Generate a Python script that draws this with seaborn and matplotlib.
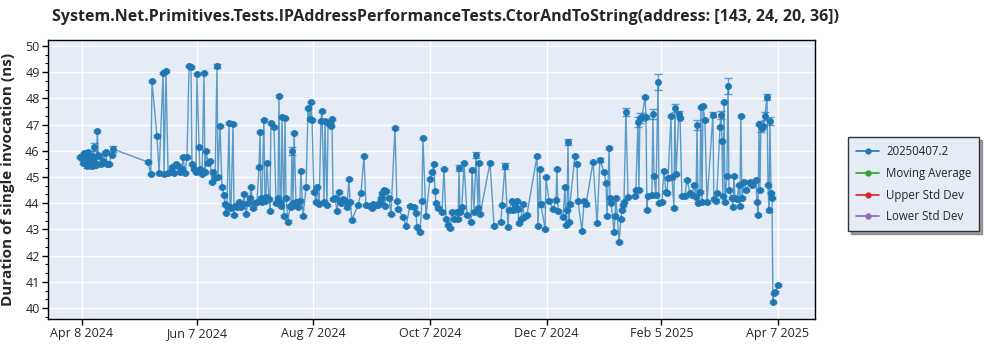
import numpy as np
import pandas as pd
import matplotlib
matplotlib.use("Agg")
import matplotlib.pyplot as plt
from matplotlib.lines import Line2D
from matplotlib.ticker import AutoMinorLocator
import seaborn as sns

# ---------------- data ----------------
start_date = "2024-04-08"
series_name = "20250407.2"
title = "System.Net.Primitives.Tests.IPAddressPerformanceTests.CtorAndToString(address: [143, 24, 20, 36])"
ylabel = "Duration of single invocation (ns)"

# days since start_date
days = [
    -1, 0, 0.5, 1, 1.5, 2, 2.5, 3, 3.5, 4, 4.5, 5, 5.5, 6, 6.5, 7, 7.5, 8, 8.5, 9,
    10, 11, 12, 12.5, 13, 14, 15.5, 16,
    34.5, 36, 36.6, 39.2, 40.3, 42.4, 42.9, 43.9, 45, 46, 47, 48, 49.2, 50.2, 51.3,
    52.3, 52.8, 53.9, 54.9, 56, 57, 57.5, 58.6, 59.6, 60.1, 61.2, 61.7, 62.8, 63.8,
    64.3, 64.9, 65.9, 67, 68, 68.5, 69.6, 70.6, 71.1, 72.2, 73.2, 74.3, 74.8, 75.3,
    75.8, 76.9, 77.4, 77.9, 79, 79.5, 80, 81, 82.1, 83.2, 84.2, 84.7, 85.8, 86.8,
    87.9, 88.4, 89.4, 90.5, 91.5, 92.6, 93.1, 93.6, 94.1, 95.1, 95.7, 96.2, 96.7,
    97.8, 98.3, 98.8, 100.4, 101.5, 102.5, 103, 103.6, 104.1, 104.6, 105.6, 106.2,
    106.7, 107.7, 108.8, 109.3, 109.8, 110.4, 110.9, 111.9, 113, 114, 114.5, 115.6,
    117.2, 118.2, 119.2, 119.8, 120.3, 121.3, 122.4, 122.9, 124, 125, 125.5, 126.6,
    127.1, 128.1, 128.7, 129.7, 130.2, 130.7, 131.3, 132.3, 133.4, 134.4, 134.9,
    135.5, 136.5, 137.6, 138.6, 139.6, 140.2, 141.2, 144.4, 145.9, 147.5, 148.5,
    150.6, 151.7, 152.2, 153.8, 154.8, 155.9, 156.4, 156.9, 158, 158.5, 159, 160.6,
    161.6, 163.7, 164.7, 165.3, 167.9, 169.5, 171.5, 173.6, 174.7, 175.2, 176.8,
    177.8, 178.3, 179.9, 182, 183.1, 184.1, 184.6, 185.2, 186.2, 188.3, 189.3,
    190.4, 191.4, 192.5, 193.5, 194.6, 196.1, 196.7, 197.2, 197.7, 198.7, 199.8,
    201.4, 203.5, 204, 205, 206.1, 207.1, 207.6, 208.2, 213.4, 215.5, 219.1, 219.7,
    221.2, 222.8, 223.3, 224.9, 225.4, 226.5, 227.5, 228, 228.6, 229.6, 230.6,
    231.2, 232.7, 238, 238.5, 239.5, 240, 242.2, 242.7, 244.2, 246.3, 247.9, 248.4,
    249, 251.6, 252.6, 253.1, 253.7, 254.2, 254.7, 255.2, 257.8, 258.9, 259.4,
    261.5, 262.6, 263.6, 267.3, 269.4, 270.9, 273, 274.1, 274.6, 275.7, 276.2,
    276.7, 278.3, 278.8, 279.3, 280.9, 281.9, 282.4, 283, 283.5, 284.5, 285.6,
    289.2, 289.7, 290.8, 291.3, 291.8, 292.9, 294.5, 295, 295.5, 296, 298.1, 298.6,
    299.2, 300.2, 301.3, 301.8, 303.3, 304.4, 305.4, 306, 306.5, 308.1, 308.6,
    309.6, 310.1, 310.7, 312.2, 312.8, 313.8, 315.4, 316.4, 318, 319, 320.1, 321.2,
    321.7, 322.2, 323.2, 323.7, 324.3, 324.8, 325.8, 326.9, 330, 330.5, 331.6,
    332.1, 333.7, 334.2, 334.7, 335.2, 335.8, 336.3, 337.3, 337.9, 338.4, 339.9,
    340.5, 341, 341.5, 342.6, 343.6, 344.1, 344.6, 345.2, 346.2, 347.3, 349.4,
    350.4, 352.5, 353, 353.6, 354.1, 354.6, 355.1, 355.6, 356.2, 357.2, 358.3,
    358.8, 359.3, 359.8, 360.4, 360.9, 361.4, 361.9, 362.5, 364,
]

values = [
    45.75, 45.8, 45.55, 45.9, 45.6, 45.85, 45.4, 45.95, 45.6, 45.7, 45.8, 45.4, 45.65, 46.15, 45.75, 45.55, 45.45, 46.76, 45.85, 45.8,
    45.5, 45.6, 45.9, 45.95, 45.5, 45.5, 45.85, 46.07,
    45.57, 45.1, 48.66, 46.56, 45.15, 48.97, 45.1, 49.05, 45.15, 45.2, 45.38, 45.15, 45.5, 45.4, 45.2,
    45.3, 45.76, 45.15, 45.76, 49.24, 49.2, 45.5, 45.3, 45.2, 48.93, 46.15, 45.3, 45.1, 48.97,
    45.2, 45.99, 45.53, 45.6, 44.8, 45.2, 44.96, 49.24, 45.0, 46.95, 44.6, 44.31, 43.95, 43.63,
    43.9, 47.05, 43.85, 43.8, 47.02, 43.55, 43.9, 43.85, 44.05, 43.85, 43.95, 44.35, 43.6, 44.0,
    44.2, 44.6, 43.8, 44.0, 44.05, 45.38, 46.72, 44.2, 44.05, 47.17, 44.1, 44.25, 45.53,
    44.15, 43.7, 47.06, 46.9, 44.0, 44.2, 48.1, 44.05, 43.9, 47.3, 43.5, 47.25,
    44.2, 43.3, 43.9, 43.85, 46.0, 44.0, 46.68, 44.05, 43.85, 44.1, 45.23, 43.5,
    44.6, 47.63, 47.2, 47.85, 47.17, 44.43, 44.05, 44.6, 43.97, 47.14, 47.52, 44.05,
    47.14, 43.93, 47.06, 47.1, 46.95, 47.2, 44.16, 44.2, 43.7, 44.43, 44.1,
    44.0, 44.15, 44.08, 43.86, 44.92, 44.05, 43.37, 43.93, 44.39, 45.8, 43.93,
    43.9, 43.82, 43.95, 43.93, 43.93, 44.05, 44.2, 44.39, 44.5, 43.9, 44.47, 44.2,
    43.6, 46.87, 44.08, 43.78, 43.47, 43.13, 43.89, 43.85, 43.62, 43.09, 42.9,
    44.08, 46.49, 43.5, 44.92, 45.2, 45.49, 44.47, 44.0, 43.82, 43.66, 45.3,
    43.4, 43.17, 43.05, 43.66, 43.4, 43.66, 43.4, 45.34, 43.66, 43.85, 45.53,
    43.55, 43.28, 45.27, 43.66, 45.84, 43.82, 45.53, 43.57, 45.53, 43.13, 43.28, 43.93,
    45.42, 43.08, 43.75, 44.08, 43.72, 43.9, 44.08, 43.78, 43.24, 43.4, 43.95,
    43.47, 43.55, 45.8, 43.13, 45.3, 43.95, 43.02, 45.0, 44.1, 43.78, 44.12, 45.3,
    43.7, 43.48, 44.6, 43.17, 43.75, 46.33, 43.27, 43.95, 45.8, 45.5, 44.08,
    42.95, 44.08, 43.95, 45.57, 43.24, 45.66, 45.2, 44.77, 43.5, 46.1, 44.2,
    44.0, 42.9, 43.5, 44.2, 42.52, 43.4, 43.75, 43.93, 44.05, 47.48, 44.24,
    44.27, 44.5, 47.1, 44.5, 47.25, 47.3, 48.05, 47.28, 43.74, 44.27, 44.3, 47.4,
    45.04, 44.3, 48.63, 44.0, 44.05, 45.23, 44.43, 44.4, 44.96, 47.33, 44.98,
    43.82, 47.63, 45.1, 47.4, 47.25, 44.27, 44.27, 44.9, 44.4, 44.3, 44.68, 44.24,
    46.98, 44.0, 44.43, 47.67, 44.05, 47.72, 47.17, 44.03, 47.37, 44.15, 44.1,
    44.4, 46.9, 47.35, 46.37, 44.27, 47.87, 44.05, 45.04, 48.47, 44.5, 44.18,
    43.85, 45.05, 44.18, 44.15, 44.68, 43.9, 47.33, 44.2, 44.8, 44.5, 44.8,
    44.68, 44.9, 44.05, 43.55, 47.02, 44.5, 46.93, 46.87, 46.93, 47.33, 48.05,
    44.7, 43.72, 47.13, 44.4, 44.2, 40.23, 40.57, 40.6, 40.88,
]

# error bar half-widths for points with visible error caps (day -> ns)
notable_errors = {
    6: 0.15, 16: 0.12, 70.6: 0.08, 109.8: 0.15, 197.2: 0.1, 206.1: 0.1,
    221.2: 0.1, 240: 0.08, 254.2: 0.12, 270.9: 0.08, 284.5: 0.15, 290.8: 0.2,
    291.8: 0.2, 292.9: 0.15, 298.6: 0.2, 301.3: 0.3, 310.1: 0.15, 312.2: 0.1,
    321.7: 0.2, 330: 0.1, 334.2: 0.15, 337.9: 0.3, 355.1: 0.2, 358.3: 0.1,
    357.2: 0.15, 359.8: 0.15,
}
default_error = 0.04

xtick_dates = ["2024-04-08", "2024-06-07", "2024-08-07", "2024-10-07",
               "2024-12-07", "2025-02-05", "2025-04-07"]
xtick_labels = ["Apr 8 2024", "Jun 7 2024", "Aug 7 2024", "Oct 7 2024",
                "Dec 7 2024", "Feb 5 2025", "Apr 7 2025"]

legend_labels = [series_name, "Moving Average", "Upper Std Dev", "Lower Std Dev"]
legend_colors = ["#1f77b4", "#2ca02c", "#d62728", "#9467bd"]

# ---------------- build frame ----------------
t0 = pd.Timestamp(start_date)
df = pd.DataFrame({
    "date": t0 + pd.to_timedelta(np.array(days, dtype=float), unit="D"),
    "value": values,
    "err": [notable_errors.get(d, default_error) for d in days],
})

# ---------------- style ----------------
sns.set_theme(style="whitegrid", rc={
    "axes.facecolor": "#E5ECF6",
    "grid.color": "white",
    "grid.linewidth": 1.0,
    "axes.edgecolor": "black",
    "axes.linewidth": 1.0,
})
plt.rcParams["font.family"] = ["Open Sans", "DejaVu Sans"]

fig = plt.figure(figsize=(10, 3.5), dpi=100)
ax = fig.add_axes([0.048, 0.0886, 0.767, 0.7974])

blue = "#1f77b4"
ax.errorbar(df["date"], df["value"], yerr=df["err"], fmt="none",
            ecolor="#5a9bd0", elinewidth=1.0, capsize=3, capthick=1.0, zorder=2)
sns.lineplot(data=df, x="date", y="value", ax=ax, color=blue, linewidth=1.0,
             alpha=0.7, estimator=None, sort=True, zorder=3, legend=False)
sns.scatterplot(data=df, x="date", y="value", ax=ax, color=blue, s=20,
                edgecolor=blue, linewidth=0.5, zorder=4, legend=False)

ax.set_ylim(39.58, 50.23)
ax.set_xlim(t0 - pd.Timedelta(days=17.8), t0 + pd.Timedelta(days=383.4))
ax.set_yticks(range(40, 51))
ax.yaxis.set_minor_locator(AutoMinorLocator(3))
ax.set_xticks(pd.to_datetime(xtick_dates))
ax.set_xticklabels(xtick_labels)
ax.tick_params(axis="both", which="major", direction="out", length=4, width=1,
               color="black", labelsize=9, left=True, bottom=True, pad=2)
ax.tick_params(axis="y", which="minor", direction="out", length=2.5, width=0.8,
               color="black", left=True)
ax.grid(True, which="major", color="white", linewidth=1.0)
ax.grid(False, which="minor")
ax.set_xlabel("")
ax.set_ylabel(ylabel, fontsize=11, fontweight="bold", labelpad=7)
for s in ax.spines.values():
    s.set_visible(True)
    s.set_color("black")

fig.suptitle(title, x=0.445, y=0.975, fontsize=11.5, fontweight="bold")

handles = [Line2D([0], [0], color=c, marker="o", markersize=3.5, linewidth=1.2)
           for c in legend_colors]
leg = fig.legend(handles, legend_labels, loc="upper left",
                 bbox_to_anchor=(0.848, 0.608), borderaxespad=0.0,
                 frameon=True, fancybox=False,
                 shadow=True, fontsize=8.3, edgecolor="#333333",
                 handlelength=2.0, handletextpad=0.6, borderpad=0.7,
                 labelspacing=0.75)
leg.get_frame().set_linewidth(1.0)

fig.savefig("out.png", dpi=100)
